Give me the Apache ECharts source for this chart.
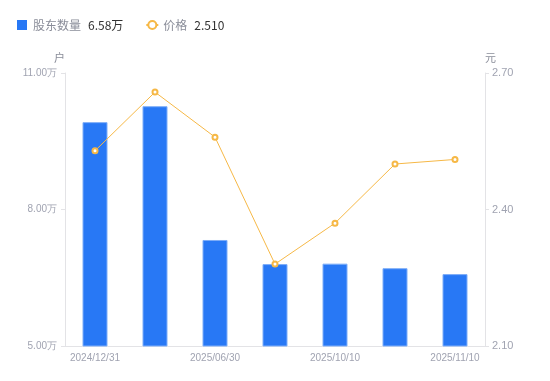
<!DOCTYPE html>
<html><head><meta charset="utf-8">
<script src="https://cdn.jsdelivr.net/npm/echarts@6/dist/echarts.min.js"></script>
<style>html,body{margin:0;padding:0;background:#fff}#c{width:550px;height:381px}</style>
</head><body><div id="c"></div>
<script>
var categories = ['2024/12/31','2025/03/31','2025/06/30','2025/09/30','2025/10/10','2025/10/31','2025/11/10'];
var holders = [9.92, 10.27, 7.33, 6.80, 6.81, 6.71, 6.58];
var prices = [2.529, 2.658, 2.559, 2.280, 2.370, 2.500, 2.510];
var leftTicks = [5, 8, 11];
var rightTicks = [2.10, 2.40, 2.70];

var chart = echarts.init(document.getElementById('c'));
var labelColor = '#a0a3b1';
chart.setOption({
  animation: false,
  legend: {
    left: 12, top: 14, itemGap: 22, itemWidth: 12, itemHeight: 10,
    data: [
      { name: '股东数量', icon: 'path://M0,0L10,0L10,10L0,10Z', itemStyle: { borderWidth: 0 } },
      { name: '价格' }
    ],
    formatter: function (n) {
      if (n === '股东数量') return '{a|' + n + '}{b|' + holders[holders.length-1].toFixed(2) + '万}';
      return '{a|' + n + '}{b|' + prices[prices.length-1].toFixed(3) + '}';
    },
    textStyle: { rich: {
      a: { color: '#8a8d99', fontSize: 12, fontFamily: 'Noto Sans CJK SC' },
      b: { color: '#333', fontSize: 12, fontFamily: 'Noto Sans CJK SC', padding: [0, 0, 0, 7] }
    } }
  },
  grid: { left: 65, right: 65, top: 73, bottom: 35 },
  xAxis: {
    type: 'category', data: categories,
    axisLine: { lineStyle: { color: '#e3e3e6' } },
    axisTick: { show: false },
    axisLabel: { interval: 1, color: labelColor, fontSize: 10, fontFamily: 'Liberation Sans', margin: 7 }
  },
  yAxis: [
    {
      type: 'value', name: '户', min: leftTicks[0], max: leftTicks[2], interval: 3,
      nameTextStyle: { color: '#8a8d99', fontSize: 11, fontFamily: 'Noto Sans CJK SC', align: 'right' },
      nameGap: 10,
      axisLine: { show: true, lineStyle: { color: '#e3e3e6' } },
      axisTick: { show: true, length: 4, lineStyle: { color: '#e3e3e6' } },
      splitLine: { show: false },
      axisLabel: { color: labelColor, fontSize: 10, fontFamily: 'Liberation Sans', margin: 8,
        formatter: function (v) { return v.toFixed(2) + '万'; } }
    },
    {
      type: 'value', name: '元', min: rightTicks[0], max: rightTicks[2], interval: 0.3,
      nameTextStyle: { color: '#8a8d99', fontSize: 11, fontFamily: 'Noto Sans CJK SC', align: 'left' },
      nameGap: 10,
      axisLine: { show: true, lineStyle: { color: '#e3e3e6' } },
      axisTick: { show: true, length: 4, lineStyle: { color: '#e3e3e6' } },
      splitLine: { show: false },
      axisLabel: { color: labelColor, fontSize: 11, fontFamily: 'Liberation Sans', margin: 7,
        formatter: function (v) { return v.toFixed(2); } }
    }
  ],
  series: [
    {
      name: '股东数量', type: 'bar', yAxisIndex: 0, data: holders, barWidth: 25,
      itemStyle: { color: '#2878f5', borderColor: '#7eaef8', borderWidth: 1 }
    },
    {
      name: '价格', type: 'line', yAxisIndex: 1, data: prices,
      symbol: 'emptyCircle', symbolSize: 5,
      lineStyle: { color: '#f6b846', width: 1 },
      itemStyle: { color: '#f6b846', borderWidth: 2 }
    }
  ]
});
</script></body></html>
